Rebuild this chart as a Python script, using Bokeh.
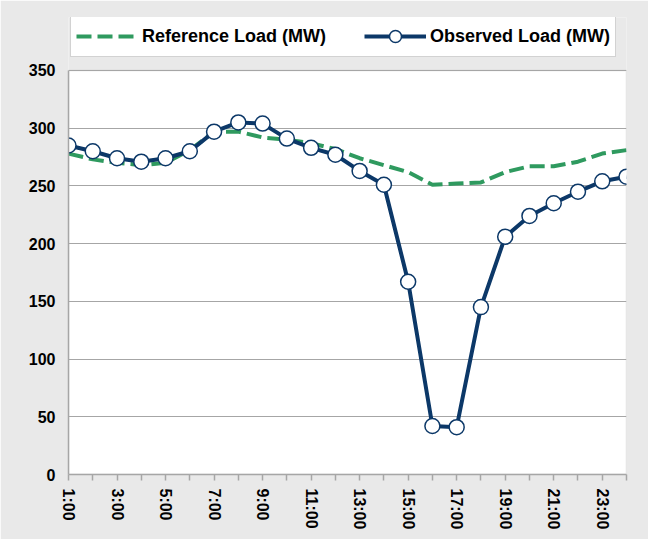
from bokeh.plotting import figure
from bokeh.models import Range1d, FixedTicker, Legend, LegendItem, BoxAnnotation
from bokeh.embed import file_html
from bokeh.resources import INLINE

hours = list(range(1, 25))
hour_labels = [f"{h}:00" for h in hours]
tick_labels = {h: (lab if h % 2 == 1 else "") for h, lab in zip(hours, hour_labels)}

reference_load = [278, 273, 270, 268, 270, 281, 297, 297, 292, 290, 287, 282,
                  274, 268, 262, 251, 252, 253, 262, 267, 267, 271, 278, 281]
observed_load = [285, 280, 274, 271, 274, 280, 297, 305, 304, 291, 283, 277,
                 263, 251, 167, 42, 41, 145, 206, 224, 235, 245, 254, 258]
y_ticks = [0, 50, 100, 150, 200, 250, 300, 350]
y_max = 350

NAVY = "#0C3868"
GREEN = "#2F9A5F"
BG = "#E9E9E9"
GRID = "#A6A6A6"
FONT = "Liberation Sans"

# frame spans from legend top down to the x axis; plot area is 0..350
p = figure(width=648, height=539, output_backend="svg", toolbar_location=None,
           x_range=Range1d(1, 24), y_range=Range1d(0, 395.9),
           min_border_left=68, min_border_right=22, min_border_top=17, min_border_bottom=65,
           background_fill_color=BG, border_fill_color=BG,
           outline_line_color=None)

plot_area = BoxAnnotation(left=1, right=24, bottom=0, top=y_max, level="image",
                          fill_color="white", fill_alpha=1,
                          line_color=GRID, line_width=1.5)
p.add_layout(plot_area)

r_ref = p.line(hours, reference_load, line_color=GREEN, line_width=4, line_dash="15 6")
r_obs_line = p.line(hours, observed_load, line_color=NAVY, line_width=4)
r_obs_pts = p.scatter(hours, observed_load, size=15, fill_color="white",
                      line_color=NAVY, line_width=1.5)

# axes
p.xaxis.ticker = FixedTicker(ticks=hours)
p.xaxis.major_label_overrides = tick_labels
p.xaxis.major_label_orientation = "vertical"
p.xaxis.major_tick_out = 6
p.xaxis.major_tick_in = 0
p.xaxis.minor_tick_line_color = None
p.xaxis.major_label_standoff = 8

p.yaxis.ticker = FixedTicker(ticks=y_ticks)
p.yaxis.bounds = (0, y_max)
p.yaxis.major_tick_out = 0
p.yaxis.major_tick_in = 0
p.yaxis.minor_tick_line_color = None
p.yaxis.major_label_standoff = 13

for ax in (p.xaxis, p.yaxis):
    ax.axis_line_color = GRID
    ax.axis_line_width = 1.5
    ax.major_tick_line_color = GRID
    ax.major_tick_line_width = 1.5
    ax.major_label_text_font = FONT
    ax.major_label_text_font_style = "bold"
    ax.major_label_text_font_size = "16px"
    ax.major_label_text_color = "black"

p.xgrid.grid_line_color = None
p.ygrid.ticker = FixedTicker(ticks=y_ticks)
p.ygrid.grid_line_color = GRID
p.ygrid.grid_line_width = 1

legend = Legend(items=[
    LegendItem(label="Reference Load (MW)", renderers=[r_ref]),
    LegendItem(label="Observed Load (MW)", renderers=[r_obs_line, r_obs_pts]),
], location=(2, 417), orientation="horizontal",
    label_text_font=FONT, label_text_font_style="bold", label_text_font_size="18px",
    label_text_color="black",
    glyph_width=62, glyph_height=30, label_height=30, label_standoff=4,
    spacing=38, padding=5, margin=0,
    border_line_color=GRID, border_line_width=1.5,
    background_fill_color="white", background_fill_alpha=1)
p.add_layout(legend, "center")

open("out.html", "w").write(file_html(p, INLINE))
